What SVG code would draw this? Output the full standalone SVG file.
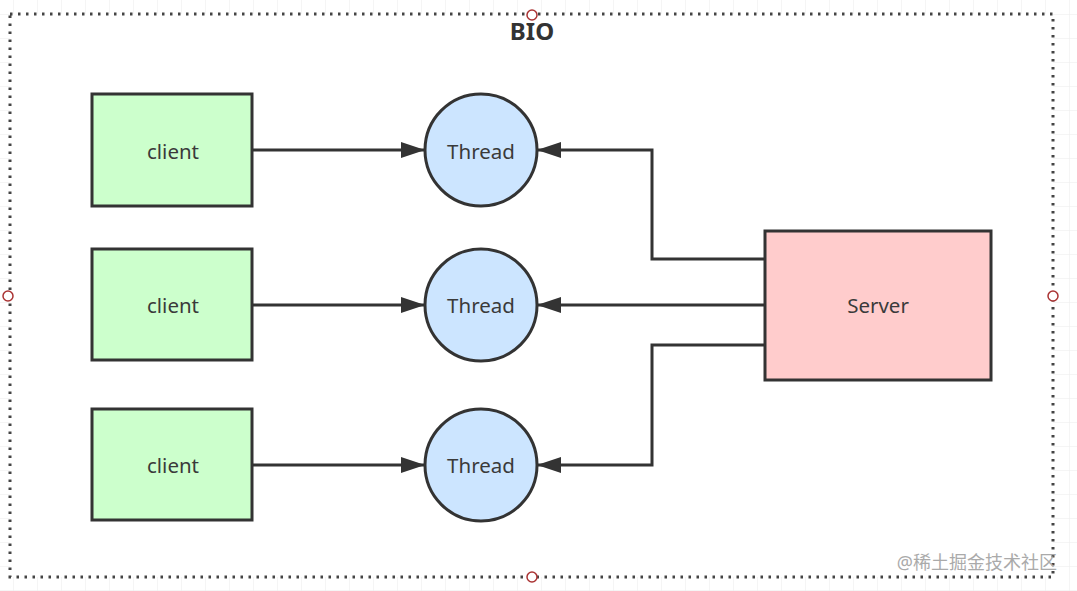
<svg xmlns="http://www.w3.org/2000/svg" width="1077" height="591" viewBox="0 0 1077 591">
<defs>
<pattern id="grid" width="24" height="24" patternUnits="userSpaceOnUse" x="13" y="-10">
<path d="M0 0H24M0 0V24" fill="none" stroke="#ececec" stroke-width="1"/>
</pattern>
<marker id="arr" viewBox="0 0 24 16" refX="24" refY="8" markerWidth="24" markerHeight="16" markerUnits="userSpaceOnUse" orient="auto">
<path d="M0 0L24 8L0 16Z" fill="#333"/>
</marker>
<style>
.box{stroke:#333;stroke-width:3}
.client{fill:#ccffcc}
.thread{fill:#cce5ff}
.server{fill:#ffcccc}
.lbl{font-family:"Noto Sans","Open Sans",sans-serif;font-size:20.5px;fill:#3a3a3a;text-anchor:middle;dominant-baseline:central}
.edge{fill:none;stroke:#333;stroke-width:3;marker-end:url(#arr)}
.handle{fill:#fff;stroke:#a33;stroke-width:1.5}
</style>
</defs>
<rect width="1077" height="591" fill="#fff"/>
<rect width="1077" height="591" fill="url(#grid)"/>
<rect x="10" y="14" width="1043" height="563" fill="#fff"/>
<rect x="10" y="14" width="1043" height="563" fill="none" stroke="#444" stroke-width="3" stroke-dasharray="2.5 5.5"/>
<text x="532" y="40" font-family="'Noto Sans','Open Sans',sans-serif" font-size="24" font-weight="bold" fill="#333" text-anchor="middle">BIO</text>
<g id="connectors">
<path class="edge" d="M252 150H425"/>
<path class="edge" d="M252 305H425"/>
<path class="edge" d="M252 465H425"/>
<path class="edge" d="M765 259H652V150H537"/>
<path class="edge" d="M765 305H537"/>
<path class="edge" d="M765 345H652V465H537"/>
</g>
<g id="client1"><rect class="box client" x="92" y="94" width="160" height="112"/><text class="lbl" x="173" y="151">client</text></g>
<g id="client2"><rect class="box client" x="92" y="249" width="160" height="111"/><text class="lbl" x="173" y="305">client</text></g>
<g id="client3"><rect class="box client" x="92" y="409" width="160" height="111"/><text class="lbl" x="173" y="465">client</text></g>
<g id="thread1"><circle class="box thread" cx="481" cy="150" r="56"/><text class="lbl" x="481" y="151">Thread</text></g>
<g id="thread2"><circle class="box thread" cx="481" cy="305" r="56"/><text class="lbl" x="481" y="305">Thread</text></g>
<g id="thread3"><circle class="box thread" cx="481" cy="465" r="56"/><text class="lbl" x="481" y="465">Thread</text></g>
<g id="server"><rect class="box server" x="765" y="231" width="226" height="149"/><text class="lbl" x="878" y="305">Server</text></g>
<circle class="handle" cx="532" cy="15" r="5"/>
<circle class="handle" cx="8" cy="296" r="5"/>
<circle class="handle" cx="1053" cy="296" r="5"/>
<circle class="handle" cx="532" cy="577" r="5"/>
<text x="1057" y="569" font-family="'Noto Sans','Noto Sans CJK SC',sans-serif" font-size="18" fill="#aaa" text-anchor="end">@稀土掘金技术社区</text>
</svg>
